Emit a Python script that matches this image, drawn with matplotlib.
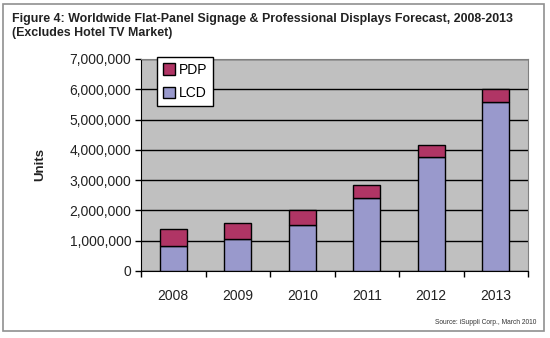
import matplotlib.pyplot as plt
import numpy as np
from matplotlib.patches import Rectangle
from matplotlib.ticker import FuncFormatter

years = ['2008', '2009', '2010', '2011', '2012', '2013']
lcd = [830000, 1060000, 1530000, 2410000, 3760000, 5590000]
pdp = [570000, 510000, 480000, 430000, 390000, 410000]

fig = plt.figure(figsize=(5.5, 3.38), dpi=100)
fig.patch.set_facecolor('white')

# outer grey frame round the whole figure
fig.patches.append(Rectangle((3/550, 1-331/338), 541/550, 327/338, transform=fig.transFigure,
                             fill=False, edgecolor='#909090', linewidth=1.2))

fig.text(12/550, 1-19/338, 'Figure 4: Worldwide Flat-Panel Signage & Professional Displays Forecast, 2008-2013',
         fontsize=8.9, fontweight='bold', family='Liberation Sans', color='#222222', va='center')
fig.text(12/550, 1-33/338, '(Excludes Hotel TV Market)',
         fontsize=8.9, fontweight='bold', family='Liberation Sans', color='#222222', va='center')
fig.text(536/550, 1-322/338, 'Source: iSuppli Corp., March 2010',
         fontsize=4.8, family='Liberation Sans', color='#333333', ha='right', va='center')

ax = fig.add_axes([141/550, 1-271/338, 387/550, 212/338])
ax.set_facecolor('#c0c0c0')

x = np.arange(len(years))
b1 = ax.bar(x, lcd, width=0.42, color='#9999cc', edgecolor='black', linewidth=1.0, label='LCD', zorder=3)
b2 = ax.bar(x, pdp, width=0.42, bottom=lcd, color='#b03565', edgecolor='black', linewidth=1.0, label='PDP', zorder=3)

ax.set_xlim(-0.5, len(years) - 0.5)
ax.set_ylim(0, 7000000)
ax.set_yticks(np.arange(0, 7000001, 1000000))
ax.yaxis.set_major_formatter(FuncFormatter(lambda v, p: f'{int(v):,}'))
ax.grid(axis='y', color='black', linewidth=1.0, zorder=1)
ax.set_axisbelow(True)

ax.set_xticks(x)
ax.set_xticklabels(years)
ax.set_xticks(np.arange(-0.5, len(years)), minor=True)
ax.tick_params(axis='x', which='major', length=0, pad=13, labelsize=10)
ax.tick_params(axis='x', which='minor', length=4, width=1, direction='out')
ax.tick_params(axis='y', length=4, width=1, direction='out', labelsize=10, pad=3)
for lbl in ax.get_xticklabels() + ax.get_yticklabels():
    lbl.set_family('Liberation Sans')
    lbl.set_color('#222222')

ax.spines['left'].set_color('black')
ax.spines['bottom'].set_color('black')
ax.spines['top'].set_color('#808080')
ax.spines['right'].set_color('#808080')

fig.text(40/550, 1-165/338, 'Units', rotation=90, fontsize=9.5, fontweight='bold',
         family='Liberation Sans', color='#222222', ha='center', va='center')

leg = ax.legend(handles=[b2, b1], labels=['PDP', 'LCD'], loc='upper left',
                bbox_to_anchor=(16/387, 1 + 2/212), borderaxespad=0, frameon=True, fancybox=False,
                edgecolor='black', facecolor='white', framealpha=1,
                handlelength=0.9, handleheight=0.9, handletextpad=0.3,
                borderpad=0.4, labelspacing=0.7, prop={'family': 'Liberation Sans', 'size': 10})
leg.get_frame().set_linewidth(1.0)

fig.savefig('out.png', dpi=100)
